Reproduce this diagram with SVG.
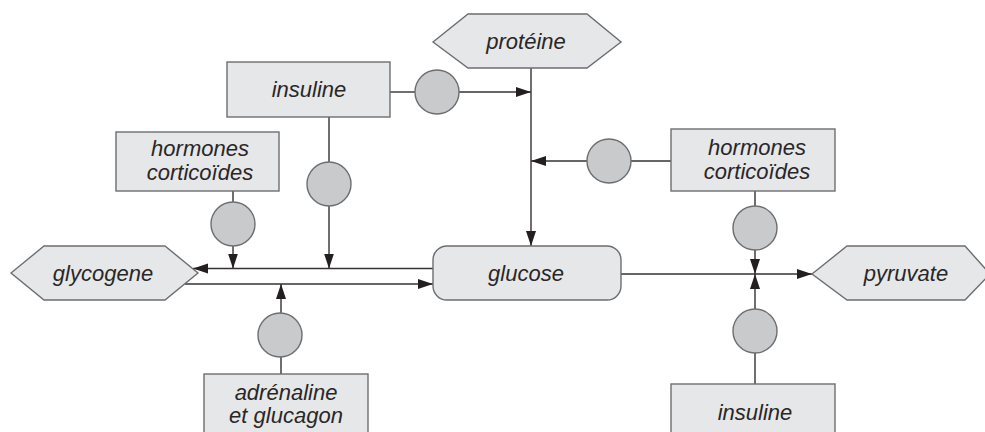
<svg xmlns="http://www.w3.org/2000/svg" width="985" height="432" viewBox="0 0 985 432">
<defs>
<style>
.box{fill:#e6e7e8;stroke:#6d6e71;stroke-width:1.4}
.reg{fill:#c9cacc;stroke:#6d6e71;stroke-width:1.4}
.ln{fill:none;stroke:#333;stroke-width:1.4}
text{font-family:"Liberation Sans",Arial,sans-serif;font-style:italic;font-size:22px;fill:#2a2627;text-anchor:middle}
</style>
<marker id="ah" markerUnits="userSpaceOnUse" markerWidth="16" markerHeight="11" refX="15" refY="5" orient="auto">
<path d="M0,0 L15,5 L0,10 z" fill="#231f20"/>
</marker>
</defs>
<rect width="985" height="432" fill="#fff"/>
<g id="connectors">
<path class="ln" d="M390,92 H415"/>
<path class="ln" d="M459,92 H531" marker-end="url(#ah)"/>
<path class="ln" d="M531,68 V246" marker-end="url(#ah)"/>
<path class="ln" d="M671,161 H631"/>
<path class="ln" d="M587,161 H531" marker-end="url(#ah)"/>
<path class="ln" d="M329,117 V162"/>
<path class="ln" d="M329,206 V268.5" marker-end="url(#ah)"/>
<path class="ln" d="M233,191 V202"/>
<path class="ln" d="M233,246 V268.5" marker-end="url(#ah)"/>
<path class="ln" d="M433,268.5 H193" marker-end="url(#ah)"/>
<path class="ln" d="M185,284 H433" marker-end="url(#ah)"/>
<path class="ln" d="M281,374 V357"/>
<path class="ln" d="M281,313 V284" marker-end="url(#ah)"/>
<path class="ln" d="M621,274 H812" marker-end="url(#ah)"/>
<path class="ln" d="M755,191 V206"/>
<path class="ln" d="M755,250 V274" marker-end="url(#ah)"/>
<path class="ln" d="M755,384 V353"/>
<path class="ln" d="M755,309 V274" marker-end="url(#ah)"/>
</g>
<g id="reg-insuline-top"><circle class="reg" cx="437" cy="92" r="22"/></g>
<g id="reg-insuline-left"><circle class="reg" cx="329" cy="184" r="22"/></g>
<g id="reg-hormones-left"><circle class="reg" cx="233" cy="224" r="22"/></g>
<g id="reg-hormones-right"><circle class="reg" cx="609" cy="161" r="22"/></g>
<g id="reg-adrenaline"><circle class="reg" cx="280" cy="335" r="22"/></g>
<g id="reg-pyr-top"><circle class="reg" cx="755" cy="228" r="22"/></g>
<g id="reg-pyr-bottom"><circle class="reg" cx="755" cy="331" r="22"/></g>
<g id="proteine">
<polygon class="box" points="433,42 468,14 587,14 621,42 587,68 468,68"/>
<text x="526" y="49">protéine</text>
</g>
<g id="insuline-top">
<rect class="box" x="227" y="62" width="163" height="55"/>
<text x="309" y="97">insuline</text>
</g>
<g id="hormones-left">
<rect class="box" x="116" y="132" width="163" height="59"/>
<text x="200" y="156">hormones</text>
<text x="200" y="180">corticoïdes</text>
</g>
<g id="hormones-right">
<rect class="box" x="671" y="129" width="164" height="62"/>
<text x="757" y="155">hormones</text>
<text x="757" y="179">corticoïdes</text>
</g>
<g id="glycogene">
<polygon class="box" points="11,273 44,246 165,246 198,273 165,300 44,300"/>
<text x="103" y="281">glycogene</text>
</g>
<g id="glucose">
<rect class="box" x="433" y="246" width="188" height="54" rx="14"/>
<text x="526" y="281">glucose</text>
</g>
<g id="pyruvate">
<polygon class="box" points="812,274 847,246 965,246 990,274 965,300 847,300"/>
<text x="906" y="281">pyruvate</text>
</g>
<g id="adrenaline">
<rect class="box" x="204" y="374" width="164" height="70"/>
<text x="286" y="400">adrénaline</text>
<text x="286" y="423">et glucagon</text>
</g>
<g id="insuline-bottom">
<rect class="box" x="671" y="384" width="164" height="60"/>
<text x="755" y="420">insuline</text>
</g>
</svg>
